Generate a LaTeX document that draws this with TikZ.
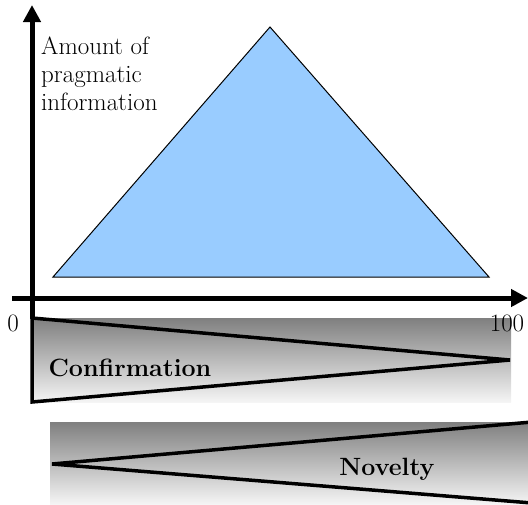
\documentclass[tikz,border=0pt]{standalone}
\usetikzlibrary{arrows.meta}
\definecolor{pastelsky}{RGB}{153, 204, 255}
\tikzset{
  axis/.style={line width=5pt, -{Triangle[length=17pt, width=17pt]}},
  wedge/.style={draw, line width=3.5pt},
  fade/.style={top color=gray, bottom color=white!96!black},
  lbl/.style={font=\fontsize{25}{28}\selectfont, inner sep=0pt},
  lblbold/.style={font=\fontsize{25}{28}\selectfont\bfseries, inner sep=0pt}
}
\begin{document}
\begin{tikzpicture}[x=1pt, y=-1pt]
\useasboundingbox (0,0) rectangle (528,504);

% Gradient bands
\shade[fade] (32,318) rectangle (511,402);
\shade[fade] (50,422) rectangle (528,504);

% Confirmation and novelty wedges
\draw[wedge] (32,318) -- (510,360) -- (32,402) -- cycle;
\draw[wedge] (532,422) -- (52,464) -- (532,503);

% Pragmatic information triangle
\draw[fill=pastelsky, line width=1pt] (53,277) -- (270,27) -- (489,277) -- cycle;

% Axes
\coordinate (yfoot) at (32,319);
\coordinate (ytip) at (32,5);
\coordinate (xfoot) at (12,298);
\coordinate (xtip) at (528,298);
\draw[axis] (yfoot) -- (ytip);
\draw[axis] (xfoot) -- (xtip);

% Labels
\node[lbl, anchor=north west, align=left] (ylabel) at (41,37) {Amount of\\pragmatic\\information};
\node[lbl] (zero) at (13,323) {0};
\node[lbl] (hundred) at (507,323) {100};
\node[lblbold, anchor=base] (confirm) at (130,376) {Confirmation};
\node[lblbold, anchor=base] (novelty) at (387,475) {Novelty};

\end{tikzpicture}
\end{document}
